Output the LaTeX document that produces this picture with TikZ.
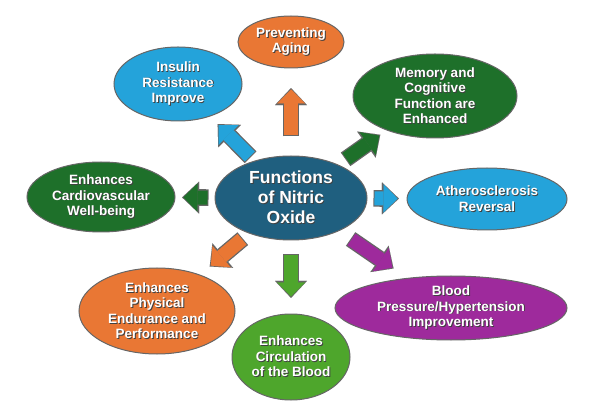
\documentclass[tikz,border=0pt]{standalone}
\usepackage{fontspec}
\setmainfont{Liberation Sans}
\usetikzlibrary{shapes.geometric,arrows.meta}
\definecolor{tealc}{RGB}{31,95,127}
\definecolor{orng}{RGB}{233,119,52}
\definecolor{lblue}{RGB}{36,163,218}
\definecolor{dgreen}{RGB}{30,112,42}
\definecolor{lgreen}{RGB}{78,166,44}
\definecolor{purp}{RGB}{158,42,156}
\newcommand\shadtxt[1]{\leavevmode\rlap{\kern0.9pt\raisebox{-0.9pt}{\textcolor{black!75}{#1}}}#1}
\tikzset{
  bubble/.style={ellipse, draw=black!60, line width=1pt, inner sep=0pt, align=center,
    text=white, font=\fontsize{13.5}{15.5}\selectfont\bfseries},
  arrout/.style={line width=16.6pt, draw=black!60, -{Triangle[length=17pt,width=32pt,line width=0.01pt]}},
  arrin/.style={line width=14pt, -{Triangle[length=14pt,width=28pt,line width=0.01pt]}}
}
\begin{document}
\begin{tikzpicture}[x=1pt,y=-1pt]
\useasboundingbox (0,0) rectangle (591,411);
\node[bubble, fill=tealc, minimum width=152pt, minimum height=84pt,
  font=\fontsize{17.5}{20}\selectfont\bfseries] (c) at (291,198)
  {\shadtxt{Functions}\\\shadtxt{of Nitric}\\\shadtxt{Oxide}};
\node[bubble, fill=orng, minimum width=106pt, minimum height=52pt] (prev) at (291,42)
  {\shadtxt{Preventing}\\\shadtxt{Aging}};
\node[bubble, fill=lblue, minimum width=128pt, minimum height=74pt] (ins) at (178,84)
  {\shadtxt{Insulin}\\\shadtxt{Resistance}\\\shadtxt{Improve}};
\node[bubble, fill=dgreen, minimum width=164pt, minimum height=84pt] (mem) at (435,96)
  {\shadtxt{Memory and}\\\shadtxt{Cognitive}\\\shadtxt{Function are}\\\shadtxt{Enhanced}};
\node[bubble, fill=dgreen, minimum width=148pt, minimum height=70pt] (card) at (101,197)
  {\shadtxt{Enhances}\\\shadtxt{Cardiovascular}\\\shadtxt{Well-being}};
\node[bubble, fill=lblue, minimum width=160pt, minimum height=62pt] (ath) at (487,199)
  {\shadtxt{Atherosclerosis}\\\shadtxt{Reversal}};
\node[bubble, fill=orng, minimum width=156pt, minimum height=86pt] (end) at (157,311)
  {\shadtxt{Enhances}\\\shadtxt{Physical}\\\shadtxt{Endurance and}\\\shadtxt{Performance}};
\node[bubble, fill=lgreen, minimum width=118pt, minimum height=86pt] (circ) at (291,357)
  {\shadtxt{Enhances}\\\shadtxt{Circulation}\\\shadtxt{of the Blood}};
\node[bubble, fill=purp, minimum width=232pt, minimum height=64pt] (bp) at (451,308)
  {\shadtxt{Blood}\\\shadtxt{Pressure/Hypertension}\\\shadtxt{Improvement}};
% block arrows
\draw[arrout, shorten <=19pt, shorten >=19.6pt] (c) -- (prev);
\draw[arrin, draw=orng, shorten <=20pt, shorten >=21pt] (c) -- (prev);
\draw[arrout, shorten <=5pt, shorten >=10.6pt] (c) -- (ins);
\draw[arrin, draw=lblue, shorten <=6pt, shorten >=12pt] (c) -- (ins);
\draw[arrout, shorten <=9pt, shorten >=7.6pt] (c) -- (mem);
\draw[arrin, draw=dgreen, shorten <=10pt, shorten >=9pt] (c) -- (mem);
\draw[arrout, shorten <=6pt, shorten >=6.6pt] (c) -- (card);
\draw[arrin, draw=dgreen, shorten <=7pt, shorten >=8pt] (c) -- (card);
\draw[arrout, shorten <=6pt, shorten >=7.6pt] (c) -- (ath);
\draw[arrin, draw=lblue, shorten <=7pt, shorten >=9pt] (c) -- (ath);
\draw[arrout, shorten <=8pt, shorten >=12.6pt] (c) -- (end);
\draw[arrin, draw=orng, shorten <=9pt, shorten >=14pt] (c) -- (end);
\draw[arrout, shorten <=14pt, shorten >=15.6pt] (c) -- (circ);
\draw[arrin, draw=lgreen, shorten <=15pt, shorten >=17pt] (c) -- (circ);
\draw[arrout, shorten <=14pt, shorten >=16.6pt] (c) -- (bp);
\draw[arrin, draw=purp, shorten <=15pt, shorten >=18pt] (c) -- (bp);
\end{tikzpicture}
\end{document}
